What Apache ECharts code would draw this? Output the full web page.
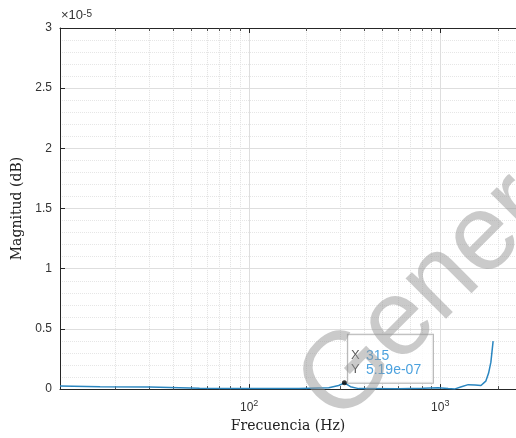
<!DOCTYPE html>
<html>
<head>
<meta charset="utf-8">
<script src="https://cdn.jsdelivr.net/npm/echarts@6/dist/echarts.min.js"></script>
<style>
html,body{margin:0;padding:0;background:#fff;}
#chart{width:516px;height:438px;}
</style>
</head>
<body>
<div id="chart"></div>
<script>
// Frequency (Hz) and magnitude values
var freqHz = [10.24, 16.6, 30.1, 55, 100, 182, 261, 294, 315, 339, 374, 604, 813, 973, 1100, 1185, 1290, 1400, 1520, 1633, 1730, 1790, 1840, 1890];
var magnitude = [2.5e-7, 2.0e-7, 1.7e-7, 0.8e-7, 0.6e-7, 0.4e-7, 1.2e-7, 3.0e-7, 5.19e-7, 2.0e-7, 0.4e-7, 0.3e-7, 0.8e-7, 1.2e-7, 0.4e-7, 0.0, 2.0e-7, 3.7e-7, 3.5e-7, 3.0e-7, 6.6e-7, 1.33e-6, 2.24e-6, 3.98e-6];
var tipPoint = [315, 5.19e-7];
var tipLabels = ['315', '5.19e-07'];
var minorFreq = [20,30,40,50,60,70,80,90,200,300,400,500,600,700,800,900,2000];
var xMin = 10.24, xMax = 2490;
var yMin = 0, yMax = 3e-5, yStep = 5e-6;

var lineData = freqHz.map(function(f, i){ return [f, magnitude[i]]; });
var tickLen = 2.5e-7;
var minorGrid = minorFreq.map(function(f){ return {xAxis: f}; });
var minorTicks = [];
minorFreq.forEach(function(f){
  minorTicks.push([{coord:[f, yMax]}, {coord:[f, yMax - tickLen]}]);
  minorTicks.push([{coord:[f, yMin]}, {coord:[f, yMin + tickLen]}]);
});

var axisColor = '#262626';
var labelColor = '#333';
var chart = echarts.init(document.getElementById('chart'), null, {renderer:'canvas'});
function logLabel(v){
  var e = Math.log10(v);
  if (Math.abs(e - Math.round(e)) > 1e-6) return '';
  return '{b|10}{s|' + Math.round(e) + '}';
}
var option = {
  animation: false,
  backgroundColor: '#fff',
  grid: {left: 60, top: 28, right: -2, bottom: 48},
  xAxis: [{
    type: 'log', logBase: 10, min: xMin, max: xMax,
    name: 'Frecuencia (Hz)', nameLocation: 'middle', nameGap: 23,
    nameTextStyle: {fontFamily: 'DejaVu Serif', fontSize: 14, color: '#222'},
    axisLine: {show: true, onZero: false, lineStyle: {color: axisColor, width: 1}},
    axisTick: {show: true, inside: true, length: 5, lineStyle: {color: axisColor}},
    axisLabel: {showMinLabel: false, showMaxLabel: false, formatter: logLabel, margin: 10,
      rich: {b: {fontFamily: 'Liberation Sans', fontSize: 12, color: labelColor, verticalAlign: 'bottom', lineHeight: 15},
             s: {fontFamily: 'Liberation Sans', fontSize: 9, color: labelColor, verticalAlign: 'top', lineHeight: 15}}},
    splitLine: {show: true, lineStyle: {color: '#dedede', width: 1}},
    minorTick: {show: false}, minorSplitLine: {show: false}
  }, {
    type: 'log', logBase: 10, min: xMin, max: xMax, position: 'top',
    axisLine: {show: true, onZero: false, lineStyle: {color: axisColor, width: 1}},
    axisTick: {show: true, inside: true, length: 5, lineStyle: {color: axisColor}},
    axisLabel: {show: false}, splitLine: {show: false}
  }],
  yAxis: {
    type: 'value', min: yMin, max: yMax, interval: yStep,
    name: 'Magnitud (dB)', nameLocation: 'middle', nameGap: 30, nameRotate: 90,
    nameTextStyle: {fontFamily: 'DejaVu Serif', fontSize: 14, color: '#222'},
    axisLine: {show: true, lineStyle: {color: axisColor, width: 1}},
    axisTick: {show: true, inside: true, length: 5, lineStyle: {color: axisColor}},
    axisLabel: {fontFamily: 'Liberation Sans', fontSize: 12, color: labelColor, margin: 8,
      formatter: function(v){ return String(+(v * 1e5).toFixed(2)); }},
    splitLine: {show: true, lineStyle: {color: '#dedede', width: 1}},
    minorTick: {show: false, splitNumber: 5},
    minorSplitLine: {show: true, lineStyle: {color: '#e6e6e6', type: 'dotted', width: 1}}
  },
  series: [{
    type: 'line', data: [], silent: true,
    markLine: {silent: true, symbol: ['none','none'], label: {show: false},
      lineStyle: {color: '#e2e2e2', type: 'dotted', width: 1}, data: minorGrid}
  }, {
    type: 'line', data: [], silent: true,
    markLine: {silent: true, symbol: ['none','none'], label: {show: false},
      lineStyle: {color: axisColor, type: 'solid', width: 0.8}, data: minorTicks}
  }, {
    type: 'line', data: lineData, showSymbol: false, symbol: 'none',
    lineStyle: {color: '#2a86c0', width: 1.5}, z: 5
  }, {
    type: 'scatter', data: [tipPoint], symbol: 'circle', symbolSize: 5,
    itemStyle: {color: '#000'}, z: 6,
    label: {show: true, position: 'right', distance: 1, verticalAlign: 'bottom', align: 'left',
      backgroundColor: '#fff', borderColor: '#a0a0a0', borderWidth: 1,
      padding: [14, 8, 6, 3], width: 74,
      formatter: '{k|X}{v|' + tipLabels[0] + '}\n{k|Y}{v|' + tipLabels[1] + '}',
      rich: {k: {fontFamily: 'Liberation Sans', fontSize: 13, color: '#333', width: 15, lineHeight: 14},
             v: {fontFamily: 'Liberation Sans', fontSize: 14, color: '#1e8ad6', lineHeight: 14}}}
  }],
  graphic: [{
    type: 'text', left: 61, top: 9, z: 10,
    style: {text: '×10{e|-5}', rich: {e: {fontSize: 10, verticalAlign: 'top', fill: labelColor, fontFamily: 'Liberation Sans'}},
      fontFamily: 'Liberation Sans', fontSize: 13, fill: labelColor}
  }, {
    type: 'text', x: 356, y: 443, rotation: Math.PI / 4, z: 100,
    style: {text: 'Generated', fontFamily: 'Liberation Sans', fontSize: 108,
      fill: 'rgba(150,150,150,0.5)', textVerticalAlign: 'bottom', textAlign: 'left'}
  }]
};
chart.setOption(option);
</script>
</body>
</html>
